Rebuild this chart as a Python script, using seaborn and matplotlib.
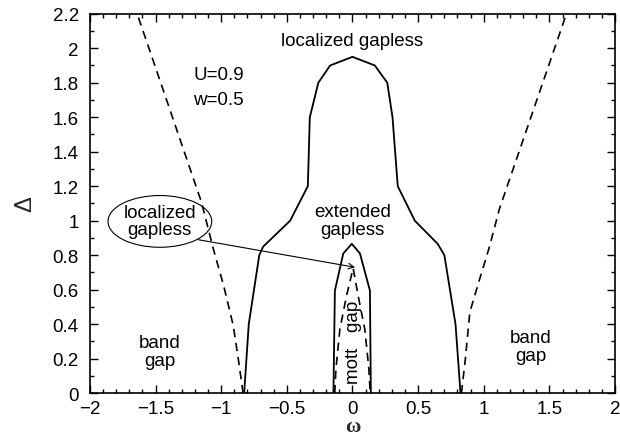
import matplotlib
matplotlib.use("Agg")
import matplotlib.pyplot as plt
from matplotlib.patches import Ellipse
from matplotlib.ticker import MultipleLocator, FuncFormatter
import seaborn as sns

# Phase boundaries in the (omega, Delta) plane
mobility_w = [-0.825, -0.79, -0.71, -0.68, -0.475, -0.34, -0.325, -0.26, -0.17, 0.0,
              0.17, 0.265, 0.305, 0.345, 0.475, 0.65, 0.70, 0.785, 0.823]
mobility_d = [0.0, 0.4, 0.8, 0.85, 1.0, 1.2, 1.6, 1.8, 1.9, 1.95,
              1.9, 1.8, 1.6, 1.2, 1.0, 0.865, 0.8, 0.4, 0.0]

mott_w = [-0.145, -0.134, -0.07, -0.005, 0.057, 0.133, 0.14]
mott_d = [0.0, 0.595, 0.81, 0.866, 0.81, 0.595, 0.0]

inner_gap_w = [-0.135, -0.126, -0.096, -0.045, 0.005, 0.043, 0.094, 0.125, 0.135]
inner_gap_d = [0.0, 0.14, 0.37, 0.566, 0.725, 0.566, 0.37, 0.14, 0.0]

band_left_w = [-0.833, -0.87, -0.908, -0.98, -1.06, -1.15, -1.64]
band_left_d = [0.0, 0.2, 0.392, 0.62, 0.837, 1.107, 2.2]

band_right_w = [0.83, 0.86, 0.894, 0.96, 1.04, 1.12, 1.63]
band_right_d = [0.0, 0.2, 0.47, 0.64, 0.84, 1.07, 2.2]

sns.set_style("ticks")
plt.rcParams["font.family"] = ["Liberation Sans", "DejaVu Sans"]

fig = plt.figure(figsize=(6.2, 4.39), dpi=100)
ax = fig.add_axes([0.145, 0.102, 0.847, 0.8645])

solid_kw = dict(color="black", linewidth=1.3, sort=False, estimator=None, ax=ax)
dash_kw = dict(color="black", linewidth=1.2, sort=False, estimator=None, ax=ax)

sns.lineplot(x=mobility_w, y=mobility_d, **solid_kw)
sns.lineplot(x=mott_w, y=mott_d, **solid_kw)
for xs, ys in [(inner_gap_w, inner_gap_d), (band_left_w, band_left_d),
               (band_right_w, band_right_d)]:
    line = sns.lineplot(x=xs, y=ys, **dash_kw).lines[-1]
    line.set_linestyle((0, (5, 3.5)))

ax.set_xlim(-2, 2)
ax.set_ylim(0, 2.2)
ax.xaxis.set_major_locator(MultipleLocator(0.5))
ax.xaxis.set_minor_locator(MultipleLocator(0.1))
ax.yaxis.set_major_locator(MultipleLocator(0.2))
ax.yaxis.set_minor_locator(MultipleLocator(0.1))
ax.xaxis.set_major_formatter(FuncFormatter(lambda v, p: f"{v:g}".replace("-", "\u2212")))
ax.yaxis.set_major_formatter(FuncFormatter(lambda v, p: f"{v:g}"))
ax.tick_params(which="both", direction="in", top=True, right=True,
               labelsize=13.5, colors="black", width=1.0)
ax.tick_params(which="major", length=6)
ax.tick_params(which="minor", length=3)
ax.tick_params(axis="x", which="major", pad=5)
ax.tick_params(axis="y", which="major", pad=8)
for s in ax.spines.values():
    s.set_linewidth(1.2)
    s.set_color("black")

ax.set_xlabel("ω", fontsize=15, fontweight="bold",
              family=["Liberation Serif", "DejaVu Serif"], labelpad=-1)
ax.set_ylabel("Δ", fontsize=17, labelpad=12)

txt = dict(fontsize=13.5, ha="center", va="center", color="black")
ax.text(0.0, 2.045, "localized gapless", **txt)
ax.text(-1.02, 1.85, "U=0.9", **txt)
ax.text(-1.02, 1.70, "w=0.5", **txt)
ax.text(0.0, 1.0, "extended\ngapless", linespacing=1.1, **txt)
ax.text(-1.47, 0.24, "band\ngap", linespacing=1.1, **txt)
ax.text(1.36, 0.27, "band\ngap", linespacing=1.1, **txt)
ax.text(0.005, 0.30, "mott   gap", rotation=90, **txt)
ax.text(-1.467, 0.996, "localized\ngapless", linespacing=1.0, **txt)

ax.add_patch(Ellipse((-1.467, 0.996), 0.79, 0.30, fill=False,
                     edgecolor="black", linewidth=0.8))
ax.annotate("", xy=(0.02, 0.73), xytext=(-1.175, 0.89),
            arrowprops=dict(arrowstyle="->", color="black", linewidth=0.8,
                            shrinkA=0, shrinkB=0))

fig.savefig("out.png", dpi=100)
